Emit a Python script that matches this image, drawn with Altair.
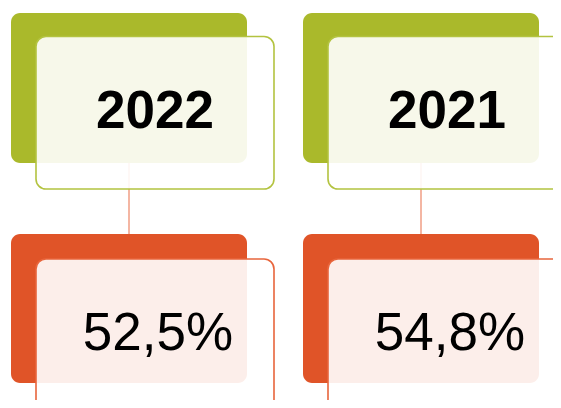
import altair as alt
import pandas as pd

# ---- data ----
years = ["2022", "2021"]
shares = [52.5, 54.8]

# ---- layout (pixel-space units used by the linear scales) ----
col_step = 292
back_x = (11, 247)
front_x = (36, 274)
top_back_y = (13, 163)
top_front_y = (36.5, 189)
bot_back_y = (234, 383)
bot_front_y = (259, 411)
year_base = 128
share_base = 350

GREEN = "#aab92b"
GREEN_LINE = "#b3c340"
ORANGE = "#e05428"
ORANGE_LINE = "#e8653c"
LINK = "#f2a48c"

labels = [f"{v:.1f}".replace(".", ",") + "%" for v in shares]

rows_back, rows_front, rows_link, rows_text = [], [], [], []
for i, (yr, lab) in enumerate(zip(years, labels)):
    off = i * col_step
    bx0, bx1 = back_x[0] + off, back_x[1] + off
    fx0, fx1 = front_x[0] + off, front_x[1] + off
    rows_back.append(dict(x=bx0, x2=bx1, y=top_back_y[0], y2=top_back_y[1], grp="top"))
    rows_back.append(dict(x=bx0, x2=bx1, y=bot_back_y[0], y2=bot_back_y[1], grp="bot"))
    rows_front.append(dict(x=fx0, x2=fx1, y=top_front_y[0], y2=top_front_y[1], grp="top"))
    rows_front.append(dict(x=fx0, x2=fx1, y=bot_front_y[0], y2=bot_front_y[1], grp="bot"))
    rows_link.append(dict(x=(bx0 + bx1) / 2, y=top_back_y[1], y2=bot_back_y[0]))
    rows_text.append(dict(x=(fx0 + fx1) / 2, y=year_base, label=yr, grp="top"))
    rows_text.append(dict(x=(fx0 + fx1) / 2 + 3, y=share_base, label=lab, grp="bot"))

back = pd.DataFrame(rows_back)
front = pd.DataFrame(rows_front)
link = pd.DataFrame(rows_link)
text = pd.DataFrame(rows_text)

W, H = 545, 392
xs = alt.Scale(domain=[8, 8 + W], nice=False, zero=False)
ys = alt.Scale(domain=[8, 8 + H], nice=False, zero=False, reverse=True)

def X(f="x"):
    return alt.X(f"{f}:Q", scale=xs, axis=None)

def Y(f="y"):
    return alt.Y(f"{f}:Q", scale=ys, axis=None)

back_green = alt.Chart(back[back.grp == "top"]).mark_rect(fill=GREEN, cornerRadius=9).encode(
    x=X(), x2="x2", y=Y(), y2="y2")
back_orange = alt.Chart(back[back.grp == "bot"]).mark_rect(fill=ORANGE, cornerRadius=9).encode(
    x=X(), x2="x2", y=Y(), y2="y2")
links = alt.Chart(link).mark_rule(color=LINK, strokeWidth=1.6).encode(
    x=X(), y=Y(), y2="y2")
front_green = alt.Chart(front[front.grp == "top"]).mark_rect(
    fill="white", fillOpacity=0.9, stroke=GREEN_LINE, strokeWidth=1.6, cornerRadius=10
).encode(x=X(), x2="x2", y=Y(), y2="y2")
front_orange = alt.Chart(front[front.grp == "bot"]).mark_rect(
    fill="white", fillOpacity=0.9, stroke=ORANGE_LINE, strokeWidth=1.6, cornerRadius=10
).encode(x=X(), x2="x2", y=Y(), y2="y2")
year_text = alt.Chart(text[text.grp == "top"]).mark_text(
    font="Liberation Sans", fontSize=53, fontWeight="bold", color="black",
    align="center", baseline="alphabetic"
).encode(x=X(), y=Y(), text="label:N")
share_text = alt.Chart(text[text.grp == "bot"]).mark_text(
    font="Liberation Sans", fontSize=53, color="black",
    align="center", baseline="alphabetic"
).encode(x=X(), y=Y(), text="label:N")

chart = alt.layer(
    back_green, back_orange, links, front_green, front_orange, year_text, share_text
).properties(
    width=W, height=H, padding=0, autosize=alt.AutoSizeParams(type="none")
).configure_view(stroke=None)

chart.save("out.html", embed_options={"renderer": "svg", "actions": False})
